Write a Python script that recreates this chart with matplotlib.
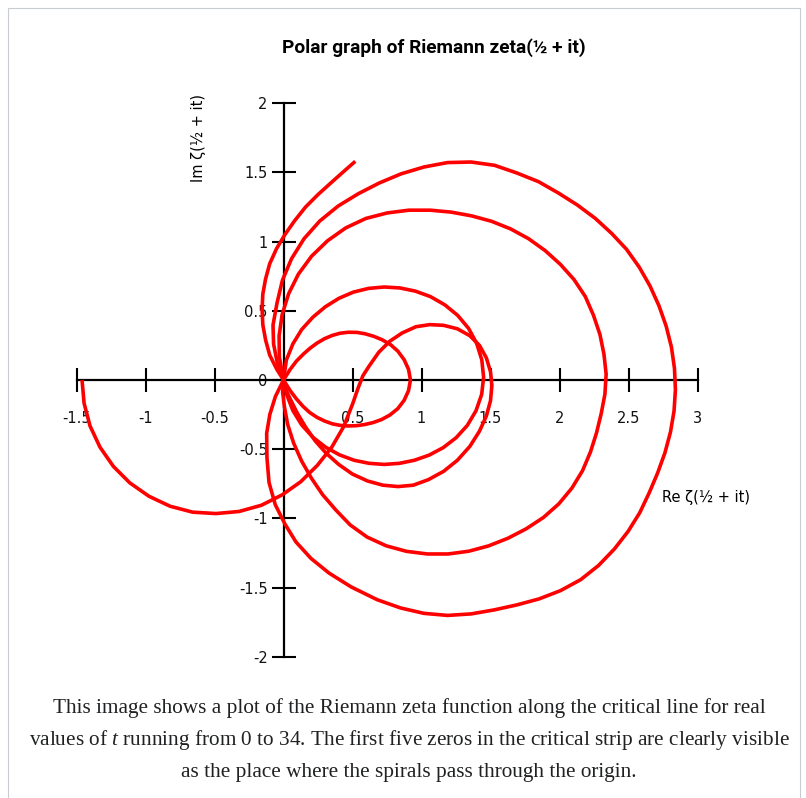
import matplotlib
matplotlib.use("Agg")
import matplotlib.pyplot as plt
from matplotlib.patches import Rectangle

# zeta(1/2 + it) on the critical line, t from 0 to 34, split at the first five zeros
seg_t0_re = [-1.46, -1.445, -1.402, -1.330, -1.233, -1.114, -0.975, -0.822, -0.658, -0.49,
             -0.322, -0.160, -0.010, 0.125, 0.245, 0.350, 0.436, 0.500, 0.540, 0.575, 0.62,
             0.69, 0.77, 0.86, 0.96, 1.06, 1.16, 1.26, 1.35, 1.42, 1.47, 1.50, 1.51, 1.50, 1.47,
             1.42, 1.35, 1.26, 1.16, 1.05, 0.94, 0.83, 0.72, 0.61, 0.50, 0.40, 0.31, 0.23, 0.16,
             0.10, 0.05, 0.015, 0.0]
seg_t0_im = [0.00, -0.168, -0.332, -0.485, -0.624, -0.743, -0.840, -0.912, -0.955, -0.965,
             -0.950, -0.905, -0.830, -0.735, -0.617, -0.485, -0.337, -0.175, -0.060, 0.030, 0.10,
             0.20, 0.28, 0.34, 0.385, 0.40, 0.395, 0.37, 0.32, 0.25, 0.16, 0.06, -0.04, -0.15,
             -0.26, -0.37, -0.48, -0.58, -0.66, -0.72, -0.76, -0.77, -0.76, -0.73, -0.68, -0.61,
             -0.53, -0.44, -0.34, -0.24, -0.14, -0.065, 0.0]

seg_t14_re = [0.0, -0.030, -0.032, -0.010, 0.037, 0.108, 0.203, 0.319, 0.451, 0.596, 0.751,
              0.908, 1.063, 1.215, 1.363, 1.507, 1.645, 1.776, 1.896, 2.006, 2.105, 2.187, 2.246,
              2.293, 2.322, 2.338, 2.329, 2.302, 2.268, 2.224, 2.167, 2.090, 1.995, 1.884, 1.759,
              1.627, 1.488, 1.343, 1.193, 1.042, 0.891, 0.744, 0.606, 0.483, 0.379, 0.283, 0.202,
              0.131, 0.073, 0.030, 0.006, -0.006, 0.0]
seg_t14_im = [0.0, 0.167, 0.319, 0.472, 0.623, 0.765, 0.894, 1.006, 1.099, 1.167, 1.207, 1.227,
              1.227, 1.213, 1.186, 1.147, 1.092, 1.021, 0.935, 0.836, 0.726, 0.603, 0.468, 0.329,
              0.187, 0.042, -0.103, -0.244, -0.383, -0.521, -0.655, -0.781, -0.895, -0.993,
              -1.075, -1.143, -1.198, -1.237, -1.257, -1.257, -1.238, -1.198, -1.135, -1.047,
              -0.939, -0.828, -0.709, -0.585, -0.455, -0.320, -0.190, -0.090, 0.0]

seg_t21_re = [0.0, 0.021, 0.068, 0.132, 0.213, 0.303, 0.401, 0.506, 0.617, 0.730, 0.844, 0.956,
              1.066, 1.169, 1.262, 1.341, 1.400, 1.437, 1.450, 1.436, 1.395, 1.332, 1.251, 1.157,
              1.055, 0.948, 0.840, 0.730, 0.620, 0.512, 0.406, 0.306, 0.213, 0.132, 0.068, 0.023,
              0.0]
seg_t21_im = [0.0, 0.145, 0.261, 0.365, 0.454, 0.529, 0.590, 0.635, 0.662, 0.672, 0.665, 0.642,
              0.602, 0.543, 0.467, 0.373, 0.264, 0.145, 0.020, -0.104, -0.222, -0.328, -0.417,
              -0.489, -0.543, -0.580, -0.602, -0.610, -0.602, -0.580, -0.541, -0.486, -0.414,
              -0.325, -0.221, -0.105, 0.0]

seg_t25_re = [0.0, -0.046, -0.072, -0.076, -0.047, -0.008, 0.058, 0.149, 0.263, 0.396, 0.542,
              0.695, 0.853, 1.018, 1.188, 1.360, 1.530, 1.693, 1.848, 1.992, 2.130, 2.259, 2.377,
              2.486, 2.578, 2.656, 2.721, 2.773, 2.811, 2.833, 2.840, 2.830, 2.804, 2.764, 2.711,
              2.650, 2.582, 2.497, 2.397, 2.283, 2.153, 2.007, 1.851, 1.691, 1.527, 1.360, 1.189,
              1.017, 0.848, 0.680, 0.490, 0.330, 0.200, 0.090, 0.010, -0.060, -0.105, -0.120,
              -0.122, -0.099, -0.059, 0.0]
seg_t25_im = [0.0, 0.128, 0.261, 0.397, 0.556, 0.720, 0.876, 1.021, 1.149, 1.257, 1.346, 1.424,
              1.490, 1.539, 1.571, 1.575, 1.551, 1.495, 1.433, 1.351, 1.264, 1.168, 1.060, 0.944,
              0.815, 0.679, 0.536, 0.389, 0.238, 0.085, -0.070, -0.224, -0.377, -0.526, -0.672,
              -0.815, -0.958, -1.094, -1.222, -1.340, -1.443, -1.522, -1.582, -1.625, -1.661,
              -1.690, -1.701, -1.686, -1.647, -1.588, -1.495, -1.395, -1.290, -1.170, -1.040,
              -0.900, -0.740, -0.560, -0.385, -0.249, -0.120, 0.0]

seg_t30_re = [0.0, 0.047, 0.094, 0.145, 0.194, 0.245, 0.298, 0.353, 0.410, 0.470, 0.531, 0.591,
              0.653, 0.714, 0.775, 0.829, 0.874, 0.906, 0.920, 0.906, 0.874, 0.828, 0.771, 0.710,
              0.648, 0.587, 0.528, 0.470, 0.412, 0.355, 0.299, 0.243, 0.190, 0.141, 0.094, 0.047,
              0.0]
seg_t30_im = [0.0, 0.075, 0.137, 0.188, 0.231, 0.268, 0.299, 0.322, 0.338, 0.345, 0.344, 0.334,
              0.316, 0.291, 0.256, 0.208, 0.147, 0.077, 0.0, -0.077, -0.147, -0.207, -0.253,
              -0.286, -0.308, -0.322, -0.330, -0.332, -0.328, -0.317, -0.297, -0.270, -0.235,
              -0.190, -0.137, -0.075, 0.0]

seg_t33_re = [0.0, -0.05, -0.10, -0.13, -0.15, -0.155, -0.15, -0.13, -0.10, -0.05, 0.01, 0.08,
              0.16, 0.25, 0.35, 0.44, 0.52]
seg_t33_im = [0.0, 0.08, 0.18, 0.29, 0.40, 0.51, 0.62, 0.73, 0.84, 0.95, 1.05, 1.15, 1.25, 1.34,
              1.43, 1.51, 1.58]

segments = [(seg_t0_re, seg_t0_im), (seg_t14_re, seg_t14_im), (seg_t21_re, seg_t21_im),
            (seg_t25_re, seg_t25_im), (seg_t30_re, seg_t30_im), (seg_t33_re, seg_t33_im)]

xticks = [-1.5, -1, -0.5, 0.5, 1, 1.5, 2, 2.5, 3]
xtick_labels = ["-1.5", "-1", "-0.5", "0.5", "1", "1.5", "2", "2.5", "3"]
yticks = [2, 1.5, 1, 0.5, 0, -0.5, -1, -1.5, -2]
ytick_labels = ["2", "1.5", "1", "0.5", "0", "-0.5", "-1", "-1.5", "-2"]

title = "Polar graph of Riemann zeta(½ + it)"
xlabel = "Re ζ(½ + it)"
ylabel = "Im ζ(½ + it)"
caption = [
    "This image shows a plot of the Riemann zeta function along the critical line for real",
    r"values of $t$ running from 0 to 34. The first five zeros in the critical strip are clearly visible",
    "as the place where the spirals pass through the origin.",
]

plt.rcParams["mathtext.fontset"] = "custom"
plt.rcParams["mathtext.rm"] = "Liberation Serif"
plt.rcParams["mathtext.it"] = "Liberation Serif:italic"

W, H = 806, 798
fig = plt.figure(figsize=(W / 100, H / 100), dpi=100)
fig.patch.set_facecolor("white")
ax = fig.add_axes([0, 0, 1, 1])
ax.patch.set_visible(False)

# origin position (pixels from the top-left) and pixels per unit
ox, oy, sx, sy = 283.5, 380.0, 138.0, 138.4
ax.set_xlim(-ox / sx, (W - ox) / sx)
ax.set_ylim(-(H - oy) / sy, oy / sy)

for re, im in segments:
    ax.plot(re, im, color="#ff0000", lw=2.6, solid_joinstyle="round",
            solid_capstyle="butt", zorder=3)

for s in ("top", "right"):
    ax.spines[s].set_visible(False)
ax.spines["left"].set_position(("data", 0))
ax.spines["bottom"].set_position(("data", 0))
ax.spines["left"].set_bounds(-2, 2)
ax.spines["bottom"].set_bounds(-1.5, 3)
for s in ("left", "bottom"):
    ax.spines[s].set_linewidth(1.6)
    ax.spines[s].set_color("black")

ax.set_xticks(xticks, xtick_labels)
ax.set_yticks(yticks, ytick_labels)
ax.tick_params(direction="inout", length=17, width=1.5, color="black",
               labelsize=10.5, labelcolor="#111111")
ax.tick_params(axis="x", pad=14)
ax.tick_params(axis="y", pad=3)

fig.text(434 / W, 1 - 48 / H, title, ha="center", va="center", fontsize=13.8,
         fontweight="bold", family=["Roboto", "DejaVu Sans"])
fig.text(662 / W, 1 - 497 / H, xlabel, ha="left", va="center", fontsize=10.5)
fig.text(198 / W, 1 - 138 / H, ylabel, ha="center", va="center", fontsize=10.5, rotation=90)

for i, line in enumerate(caption):
    fig.text(409 / W, 1 - (708 + 32 * i) / H, line, ha="center", va="center",
             fontsize=15.3, family="Liberation Serif", color="#202122")

fig.add_artist(Rectangle((8 / W, -0.05), 792 / W, 1.05 - 8 / H, transform=fig.transFigure,
                         fill=False, edgecolor="#c8ccd1", lw=0.8))

fig.savefig("out.png", dpi=100)
